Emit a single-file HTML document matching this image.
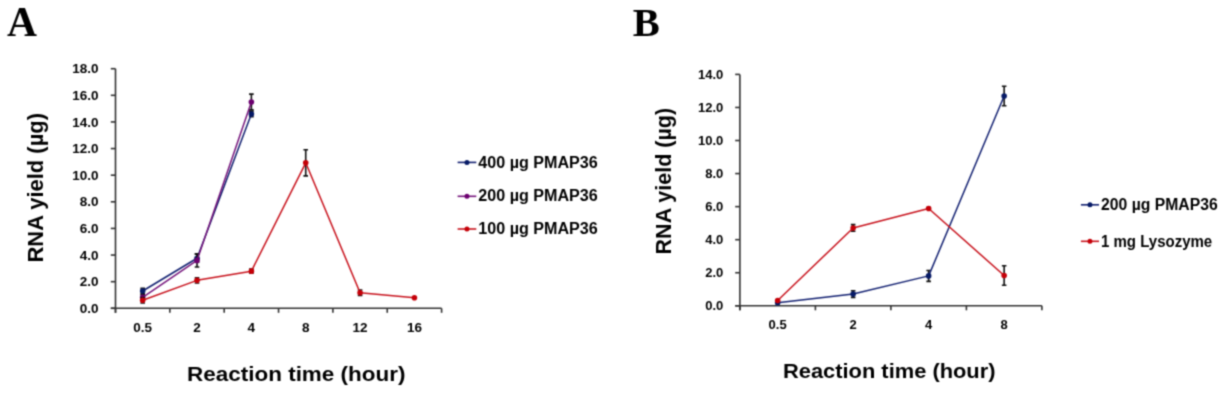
<!DOCTYPE html>
<html><head><meta charset="utf-8"><title>RNA yield charts</title>
<style>
html,body{margin:0;padding:0;background:#fff;}
body{width:1224px;height:394px;overflow:hidden;}
svg{display:block;}
svg text{font-family:"Liberation Sans",sans-serif;font-weight:bold;fill:#000;}
</style></head>
<body>
<svg width="1224" height="394" viewBox="0 0 1224 394">
<defs><filter id="soft" x="0" y="0" width="1224" height="394" filterUnits="userSpaceOnUse" color-interpolation-filters="sRGB"><feConvolveMatrix order="3" kernelMatrix="1 3 1 3 9 3 1 3 1" divisor="25" edgeMode="duplicate" preserveAlpha="true"/></filter></defs>
<g filter="url(#soft)">
<rect width="1224" height="394" fill="#fff"/>
<text x="7" y="36.2" style="font-family:&quot;Liberation Serif&quot;,serif;font-size:41.5px;font-weight:bold;fill:#000">A</text>
<text x="632.8" y="36.2" style="font-family:&quot;Liberation Serif&quot;,serif;font-size:40.5px;font-weight:bold;fill:#000">B</text>
<path d="M115.5 68.7V312.8" stroke="#333" stroke-width="1.6" fill="none"/>
<path d="M110.8 308.3H441.6" stroke="#333" stroke-width="1.6" fill="none"/>
<path d="M110.8 308.3H115.5" stroke="#333" stroke-width="1.6"/>
<text x="98.6" y="312.9" text-anchor="end" font-size="13.5">0.0</text>
<path d="M110.8 281.68H115.5" stroke="#333" stroke-width="1.6"/>
<text x="98.6" y="286.28" text-anchor="end" font-size="13.5">2.0</text>
<path d="M110.8 255.06H115.5" stroke="#333" stroke-width="1.6"/>
<text x="98.6" y="259.66" text-anchor="end" font-size="13.5">4.0</text>
<path d="M110.8 228.43H115.5" stroke="#333" stroke-width="1.6"/>
<text x="98.6" y="233.03" text-anchor="end" font-size="13.5">6.0</text>
<path d="M110.8 201.81H115.5" stroke="#333" stroke-width="1.6"/>
<text x="98.6" y="206.41" text-anchor="end" font-size="13.5">8.0</text>
<path d="M110.8 175.19H115.5" stroke="#333" stroke-width="1.6"/>
<text x="98.6" y="179.79" text-anchor="end" font-size="13.5">10.0</text>
<path d="M110.8 148.57H115.5" stroke="#333" stroke-width="1.6"/>
<text x="98.6" y="153.17" text-anchor="end" font-size="13.5">12.0</text>
<path d="M110.8 121.94H115.5" stroke="#333" stroke-width="1.6"/>
<text x="98.6" y="126.54" text-anchor="end" font-size="13.5">14.0</text>
<path d="M110.8 95.32H115.5" stroke="#333" stroke-width="1.6"/>
<text x="98.6" y="99.92" text-anchor="end" font-size="13.5">16.0</text>
<path d="M110.8 68.7H115.5" stroke="#333" stroke-width="1.6"/>
<text x="98.6" y="73.3" text-anchor="end" font-size="13.5">18.0</text>
<path d="M115.5 308.3V312.8" stroke="#333" stroke-width="1.6"/>
<path d="M169.85 308.3V312.8" stroke="#333" stroke-width="1.6"/>
<path d="M224.2 308.3V312.8" stroke="#333" stroke-width="1.6"/>
<path d="M278.55 308.3V312.8" stroke="#333" stroke-width="1.6"/>
<path d="M332.9 308.3V312.8" stroke="#333" stroke-width="1.6"/>
<path d="M387.25 308.3V312.8" stroke="#333" stroke-width="1.6"/>
<path d="M441.6 308.3V312.8" stroke="#333" stroke-width="1.6"/>
<text x="142.68" y="331.6" text-anchor="middle" font-size="13.5">0.5</text>
<text x="197.03" y="331.6" text-anchor="middle" font-size="13.5">2</text>
<text x="251.38" y="331.6" text-anchor="middle" font-size="13.5">4</text>
<text x="305.73" y="331.6" text-anchor="middle" font-size="13.5">8</text>
<text x="360.08" y="331.6" text-anchor="middle" font-size="13.5">12</text>
<text x="414.43" y="331.6" text-anchor="middle" font-size="13.5">16</text>
<path d="M142.68 288.33V293.66M140.38 288.33H144.98M140.38 293.66H144.98" stroke="#111" stroke-width="1.6" fill="none"/>
<path d="M197.03 254.26V262.24M194.72 254.26H199.33M194.72 262.24H199.33" stroke="#111" stroke-width="1.6" fill="none"/>
<path d="M251.38 111.3V116.62M249.07 111.3H253.68M249.07 116.62H253.68" stroke="#111" stroke-width="1.6" fill="none"/>
<path d="M142.68 291 L197.03 258.25 L251.38 113.96" stroke="#142272" stroke-width="1.5" fill="none" stroke-linejoin="round"/>
<circle cx="142.68" cy="291" r="2.8" fill="#061a66"/>
<circle cx="197.03" cy="258.25" r="2.8" fill="#061a66"/>
<circle cx="251.38" cy="113.96" r="2.8" fill="#061a66"/>
<path d="M142.68 294.72V300.05M140.38 294.72H144.98M140.38 300.05H144.98" stroke="#111" stroke-width="1.6" fill="none"/>
<path d="M197.03 253.72V267.04M194.72 253.72H199.33M194.72 267.04H199.33" stroke="#111" stroke-width="1.6" fill="none"/>
<path d="M251.38 94.12V109.83M249.07 94.12H253.68M249.07 109.83H253.68" stroke="#111" stroke-width="1.6" fill="none"/>
<path d="M142.68 297.38 L197.03 260.38 L251.38 101.98" stroke="#76167c" stroke-width="1.5" fill="none" stroke-linejoin="round"/>
<circle cx="142.68" cy="297.38" r="2.8" fill="#6c006f"/>
<circle cx="197.03" cy="260.38" r="2.8" fill="#6c006f"/>
<circle cx="251.38" cy="101.98" r="2.8" fill="#6c006f"/>
<path d="M142.68 297.65V302.98M140.38 297.65H144.98M140.38 302.98H144.98" stroke="#111" stroke-width="1.6" fill="none"/>
<path d="M197.03 277.68V283.01M194.72 277.68H199.33M194.72 283.01H199.33" stroke="#111" stroke-width="1.6" fill="none"/>
<path d="M251.38 269.17V273.16M249.07 269.17H253.68M249.07 273.16H253.68" stroke="#111" stroke-width="1.6" fill="none"/>
<path d="M305.73 149.76V175.85M303.43 149.76H308.03M303.43 175.85H308.03" stroke="#111" stroke-width="1.6" fill="none"/>
<path d="M360.08 290.06V295.39M357.78 290.06H362.38M357.78 295.39H362.38" stroke="#111" stroke-width="1.6" fill="none"/>
<path d="M142.68 300.31 L197.03 280.35 L251.38 271.16 L305.73 162.81 L360.08 292.73 L414.43 297.78" stroke="#c8141e" stroke-width="1.5" fill="none" stroke-linejoin="round"/>
<circle cx="142.68" cy="300.31" r="2.8" fill="#c50008"/>
<circle cx="197.03" cy="280.35" r="2.8" fill="#c50008"/>
<circle cx="251.38" cy="271.16" r="2.8" fill="#c50008"/>
<circle cx="305.73" cy="162.81" r="2.8" fill="#c50008"/>
<circle cx="360.08" cy="292.73" r="2.8" fill="#c50008"/>
<circle cx="414.43" cy="297.78" r="2.8" fill="#c50008"/>
<path d="M457.6 162.4H476.3" stroke="#142272" stroke-width="1.6"/>
<circle cx="466.95" cy="162.4" r="2.5" fill="#061a66"/>
<text x="478.3" y="167.8" font-size="16" textLength="119.5" lengthAdjust="spacingAndGlyphs">400 µg PMAP36</text>
<path d="M457.6 196.3H476.3" stroke="#76167c" stroke-width="1.6"/>
<circle cx="466.95" cy="196.3" r="2.5" fill="#6c006f"/>
<text x="478.3" y="201.2" font-size="16" textLength="119.5" lengthAdjust="spacingAndGlyphs">200 µg PMAP36</text>
<path d="M457.6 229H476.3" stroke="#c8141e" stroke-width="1.6"/>
<circle cx="466.95" cy="229" r="2.5" fill="#c50008"/>
<text x="478.3" y="233.7" font-size="16" textLength="119.5" lengthAdjust="spacingAndGlyphs">100 µg PMAP36</text>
<text transform="translate(42.5 262.5) rotate(-90)" font-size="22" textLength="149.5" lengthAdjust="spacingAndGlyphs">RNA yield (µg)</text>
<text x="187" y="381.4" font-size="21" textLength="218.5" lengthAdjust="spacingAndGlyphs">Reaction time (hour)</text>
<path d="M739.9 74.4V310.3" stroke="#333" stroke-width="1.6" fill="none"/>
<path d="M735.2 305.8H1041.9" stroke="#333" stroke-width="1.6" fill="none"/>
<path d="M735.2 305.8H739.9" stroke="#333" stroke-width="1.6"/>
<text x="723.3" y="310.4" text-anchor="end" font-size="13">0.0</text>
<path d="M735.2 272.74H739.9" stroke="#333" stroke-width="1.6"/>
<text x="723.3" y="277.34" text-anchor="end" font-size="13">2.0</text>
<path d="M735.2 239.69H739.9" stroke="#333" stroke-width="1.6"/>
<text x="723.3" y="244.29" text-anchor="end" font-size="13">4.0</text>
<path d="M735.2 206.63H739.9" stroke="#333" stroke-width="1.6"/>
<text x="723.3" y="211.23" text-anchor="end" font-size="13">6.0</text>
<path d="M735.2 173.57H739.9" stroke="#333" stroke-width="1.6"/>
<text x="723.3" y="178.17" text-anchor="end" font-size="13">8.0</text>
<path d="M735.2 140.51H739.9" stroke="#333" stroke-width="1.6"/>
<text x="723.3" y="145.11" text-anchor="end" font-size="13">10.0</text>
<path d="M735.2 107.46H739.9" stroke="#333" stroke-width="1.6"/>
<text x="723.3" y="112.06" text-anchor="end" font-size="13">12.0</text>
<path d="M735.2 74.4H739.9" stroke="#333" stroke-width="1.6"/>
<text x="723.3" y="79" text-anchor="end" font-size="13">14.0</text>
<path d="M739.9 305.8V310.3" stroke="#333" stroke-width="1.6"/>
<path d="M815.4 305.8V310.3" stroke="#333" stroke-width="1.6"/>
<path d="M890.9 305.8V310.3" stroke="#333" stroke-width="1.6"/>
<path d="M966.4 305.8V310.3" stroke="#333" stroke-width="1.6"/>
<path d="M1041.9 305.8V310.3" stroke="#333" stroke-width="1.6"/>
<text x="777.65" y="328.5" text-anchor="middle" font-size="13">0.5</text>
<text x="853.15" y="328.5" text-anchor="middle" font-size="13">2</text>
<text x="928.65" y="328.5" text-anchor="middle" font-size="13">4</text>
<text x="1004.15" y="328.5" text-anchor="middle" font-size="13">8</text>
<path d="M777.65 301.83V303.49M775.35 301.83H779.95M775.35 303.49H779.95" stroke="#111" stroke-width="1.6" fill="none"/>
<path d="M853.15 290.76V297.37M850.85 290.76H855.45M850.85 297.37H855.45" stroke="#111" stroke-width="1.6" fill="none"/>
<path d="M928.65 270.43V281.34M926.35 270.43H930.95M926.35 281.34H930.95" stroke="#111" stroke-width="1.6" fill="none"/>
<path d="M1004.15 86.3V105.8M1001.85 86.3H1006.45M1001.85 105.8H1006.45" stroke="#111" stroke-width="1.6" fill="none"/>
<path d="M777.65 302.66 L853.15 294.06 L928.65 275.88 L1004.15 96.05" stroke="#142272" stroke-width="1.5" fill="none" stroke-linejoin="round"/>
<circle cx="777.65" cy="302.66" r="2.8" fill="#061a66"/>
<circle cx="853.15" cy="294.06" r="2.8" fill="#061a66"/>
<circle cx="928.65" cy="275.88" r="2.8" fill="#061a66"/>
<circle cx="1004.15" cy="96.05" r="2.8" fill="#061a66"/>
<path d="M853.15 224.64V231.26M850.85 224.64H855.45M850.85 231.26H855.45" stroke="#111" stroke-width="1.6" fill="none"/>
<path d="M928.65 207.62V209.27M926.35 207.62H930.95M926.35 209.27H930.95" stroke="#111" stroke-width="1.6" fill="none"/>
<path d="M1004.15 265.8V285.3M1001.85 265.8H1006.45M1001.85 285.3H1006.45" stroke="#111" stroke-width="1.6" fill="none"/>
<path d="M777.65 300.51 L853.15 227.95 L928.65 208.45 L1004.15 275.55" stroke="#c8141e" stroke-width="1.5" fill="none" stroke-linejoin="round"/>
<circle cx="777.65" cy="300.51" r="2.8" fill="#c50008"/>
<circle cx="853.15" cy="227.95" r="2.8" fill="#c50008"/>
<circle cx="928.65" cy="208.45" r="2.8" fill="#c50008"/>
<circle cx="1004.15" cy="275.55" r="2.8" fill="#c50008"/>
<path d="M1080.9 204.8H1099" stroke="#142272" stroke-width="1.6"/>
<circle cx="1089.95" cy="204.8" r="2.5" fill="#061a66"/>
<text x="1101" y="210" font-size="15.8" textLength="116.7" lengthAdjust="spacingAndGlyphs">200 µg PMAP36</text>
<path d="M1080.9 241.3H1099" stroke="#c8141e" stroke-width="1.6"/>
<circle cx="1089.95" cy="241.3" r="2.5" fill="#c50008"/>
<text x="1101" y="246.5" font-size="15.8" textLength="111.2" lengthAdjust="spacingAndGlyphs">1 mg Lysozyme</text>
<text transform="translate(671 254.4) rotate(-90)" font-size="21.8" textLength="146.5" lengthAdjust="spacingAndGlyphs">RNA yield (µg)</text>
<text x="783" y="378" font-size="20.6" textLength="212.5" lengthAdjust="spacingAndGlyphs">Reaction time (hour)</text>
</g>
</svg>
</body></html>
